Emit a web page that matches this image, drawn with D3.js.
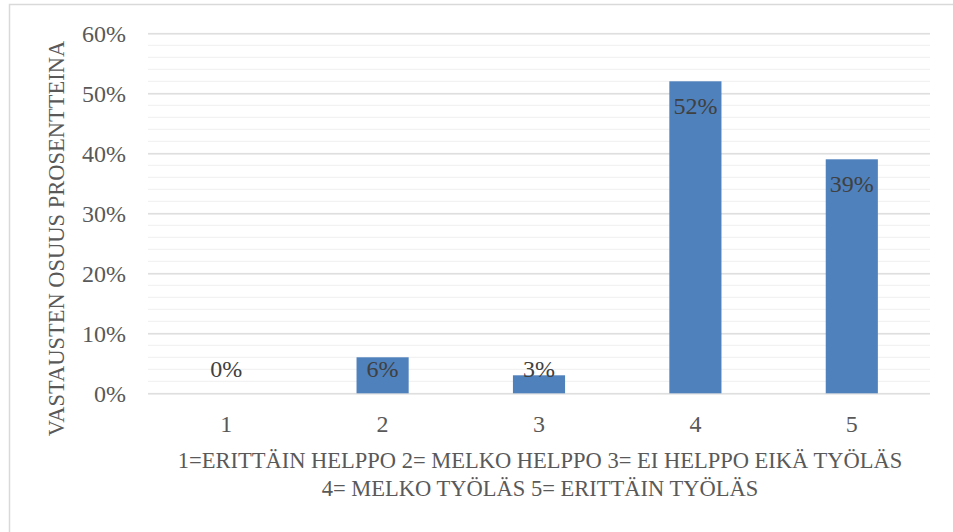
<!DOCTYPE html>
<html>
<head>
<meta charset="utf-8">
<script src="https://cdn.jsdelivr.net/npm/d3@7"></script>
<style>
  html, body { margin: 0; padding: 0; background: #fff; }
  svg { display: block; font-family: "Liberation Serif", serif; }
</style>
</head>
<body>
<div id="chart"></div>
<script>
const categories = ["1", "2", "3", "4", "5"];
const shares = [0, 0.06, 0.03, 0.52, 0.39];
const yTicks = [0, 0.1, 0.2, 0.3, 0.4, 0.5, 0.6];
const minorTicks = d3.range(0, 0.601, 0.02);
const yTitle = "VASTAUSTEN OSUUS PROSENTTEINA";
const xTitleLines = ["1=ERITTÄIN HELPPO 2= MELKO HELPPO 3= EI HELPPO EIKÄ TYÖLÄS", "4= MELKO TYÖLÄS 5= ERITTÄIN TYÖLÄS"];

const chartRenderer = (() => {
    const W = 953, H = 532;
    const plot = { left: 148, right: 930, top: 33.3, bottom: 393.3 };
    const BAR_COLOR = "#4f81bd";
    const GRID_MAJOR = "#d9d9d9", GRID_MINOR = "#f2f2f2";
    const TEXT = "#595959", LABEL = "#404040";

    function render(targetId) {
        const svg = d3.select(`#${targetId}`).append("svg")
            .attr("width", W).attr("height", H)
            .attr("viewBox", `0 0 ${W} ${H}`);

        svg.append("rect").attr("width", W).attr("height", H).attr("fill", "#fff");
        // chart frame (only top and left edges are visible in the crop)
        svg.append("path").attr("d", `M9.5,${H} V4.5 H${W}`)
            .attr("fill", "none").attr("stroke", GRID_MAJOR).attr("stroke-width", 1.5);

        const x = d3.scaleBand().domain(categories).range([plot.left, plot.right]);
        const y = d3.scaleLinear().domain([0, 0.6]).range([plot.bottom, plot.top]);
        const barW = x.bandwidth() / 3;

        // minor then major gridlines
        svg.append("g").selectAll("line").data(minorTicks).enter().append("line")
            .attr("x1", plot.left).attr("x2", plot.right)
            .attr("y1", d => y(d)).attr("y2", d => y(d))
            .attr("stroke", GRID_MINOR).attr("stroke-width", 1.3);

        const yAxis = svg.append("g").attr("transform", `translate(${plot.left},0)`)
            .call(d3.axisLeft(y).tickValues(yTicks).tickFormat(d3.format(".0%"))
                .tickSize(-(plot.right - plot.left)).tickPadding(22));
        yAxis.select(".domain").remove();
        yAxis.selectAll(".tick line").attr("stroke", GRID_MAJOR).attr("stroke-width", 1.3);
        yAxis.selectAll(".tick text").attr("fill", TEXT).style("font-size", "24px")
            .style("font-family", "Liberation Serif").attr("dy", "0.35em");

        svg.append("g").selectAll("rect").data(shares).enter().append("rect")
            .attr("x", (d, i) => x(categories[i]) + (x.bandwidth() - barW) / 2)
            .attr("width", barW)
            .attr("y", d => y(d))
            .attr("height", d => y(0) - y(d))
            .attr("fill", BAR_COLOR);

        // data labels: inside end, kept above the axis for short bars
        svg.append("g").selectAll("text").data(shares).enter().append("text")
            .attr("x", (d, i) => x(categories[i]) + x.bandwidth() / 2)
            .attr("y", d => Math.min(y(d) + 33, 376.5))
            .attr("text-anchor", "middle")
            .attr("fill", LABEL).style("font-size", "24px")
            .text(d => d3.format(".0%")(d));

        const xAxis = svg.append("g").attr("transform", `translate(0,${plot.bottom})`)
            .call(d3.axisBottom(x).tickSize(0).tickPadding(22));
        xAxis.select(".domain").remove();
        xAxis.selectAll(".tick text").attr("fill", TEXT).style("font-size", "24px")
            .style("font-family", "Liberation Serif");

        svg.append("text")
            .attr("transform", `translate(64,238.5) rotate(-90)`)
            .attr("text-anchor", "middle").attr("fill", TEXT)
            .style("font-size", "22.5px")
            .text(yTitle);

        svg.append("g").selectAll("text").data(xTitleLines).enter().append("text")
            .attr("x", 540).attr("y", (d, i) => 468 + i * 27.5)
            .attr("text-anchor", "middle").attr("fill", TEXT)
            .style("font-size", "22.5px")
            .text(d => d);
    }

    return Object.freeze({ render });
})();

chartRenderer.render("chart");
</script>
</body>
</html>
